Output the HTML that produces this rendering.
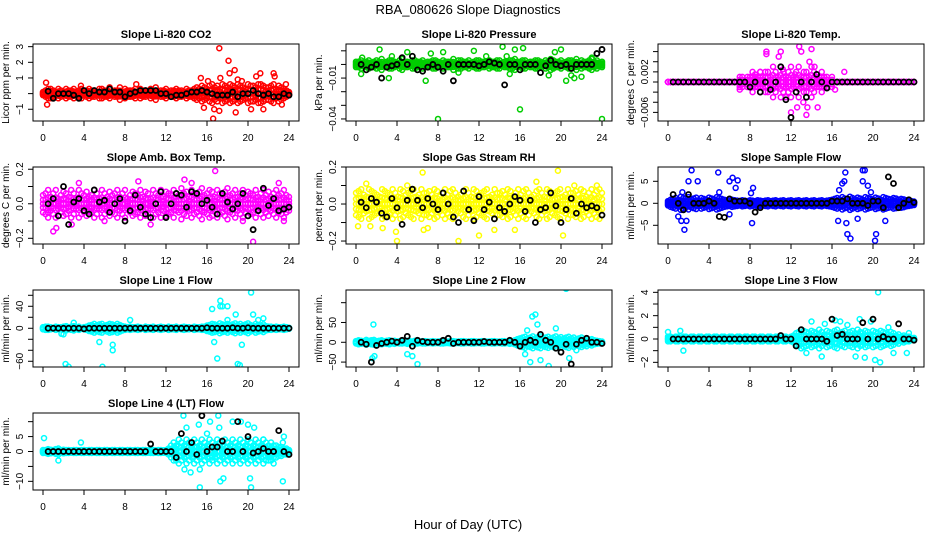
<!DOCTYPE html>
<html><head><meta charset="utf-8">
<style>
html,body{margin:0;padding:0;background:#fff;}
svg{display:block;font-family:"Liberation Sans",Arial,sans-serif;}
</style></head>
<body>
<svg id="chart" width="936" height="540" viewBox="0 0 936 540" xmlns="http://www.w3.org/2000/svg">
<rect width="936" height="540" fill="#fff"/>
<text x="468" y="14" font-size="13" text-anchor="middle">RBA_080626  Slope Diagnostics</text>
<text x="468" y="529" font-size="13" text-anchor="middle">Hour of Day (UTC)</text>
<g id="panels"></g>
</svg>
<script>
// ---------- data (values in panel units; multiply by unit) ----------
const xTickLabels = ["0","4","8","12","16","20","24"];
const xTicks = [0,4,8,12,16,20,24];

// Panel 1: CO2 (unit 0.1 ppm)
const co2Band = [1,-2,3,-3,2,-1,3,-2,1,-3,2,-2,3,-1,2,-3,1,-2,3,-2,2,-1,3,-3,2,-2,3,-1,2,-2,4,-1,3,-2,2,-2,3,-1,3,-2,2,-1,3,-2,4,-1,2,-2,3,-1,2,-2,3,-2,2,-1,3,-2,2,-3,4,-3,5,-4,3,-5,6,-4,5,-3,6,-5,4,-6,5,-4,6,-5,4,-3,6,-5,5,-4,6,-6,5,-4,4,-5,6,-3,5,-4,3,-2,1];
const co2Out = [[0.3,7],[0.4,-7],[3.7,5],[6.5,4],[9.1,6],[15.4,10],[15.7,-9],[16.1,8],[16.6,-16],[16.7,-10],[17.2,29],[17.3,10],[17.2,-11],[18.1,21],[18.2,13],[18.7,15],[18.8,-12],[19,9],[19.4,8],[20.3,-10],[20.8,11],[21.2,13],[21.5,-10],[22.5,13],[22.6,11],[23.3,-7],[23.7,6]];
const co2Black = [1.5,-3,0,0,0,-1,-3,2,0,2,1,1,3,1,1,-2,0,1,2,2,2,2,0,0,-2,-1,-1,0,1,1,2,1,0,-1,-1,-1,1,-2,0,0,2,0,-1,0,-2,-2,0,-1];

// Panel 2: pressure (unit 0.001 kPa)
const presBand = [2,-2,3,-1,2,-3,1,-2,3,-2,4,-1,2,-3,3,-2,1,-3,4,-2,2,-1,3,-3,2,-2,3,-1,2,-2,3,-3,2,-1,3,-2,2,-2,4,-1,3,-3,2,-2,3,-1,2,-3,3,-2,2,-1,3,-2,2,-3,3,-1,2,-2,3,-3,4,-2,2,-3,3,-1,2,-2,3,-3,2,-1,3,-2,4,-3,2,-2,3,-1,2,-3,3,-2,4,-1,3,-2,2,-3,4,-2,3,-1,2];
const presOut = [[0.5,-7],[0.6,5],[2.3,11],[3.2,-10],[3.5,6],[5,9],[6.8,-12],[7.3,8],[8,-40],[8.5,9],[10,-6],[11.5,10],[12.7,6],[14.3,13],[14.7,6],[15,-7],[15.5,11],[16,-33],[16.3,12],[18.8,-8],[19.4,9],[20,11],[20.5,-12],[21,-8],[21.3,-10],[22,-9],[23,5],[23.5,8],[24,-40]];
const presBlack = [0,-4,-2,0,-10,-2,-1,0,5,0,6,-4,-5,-2,0,-2,-5,0,-12,0,0,0,0,-1,0,2,1,0,-15,0,0,-4,0,0,0,-6,-1,3,0,-1,0,-3,0,0,0,0,8,11];

// Panel 3: Li-820 temp (unit 0.001 C)
const tempBand = [0,0,0,0,0,0,0,0,0,0,0,0,0,0,0,0,0,0,0,0,0,0,0,0,0,0,0,0,1,-1,0,1,-1,2,-1,1,-2,1,-2,2,-1,3,-2,1,-3,2,-1,2,-3,1,-2,3,-1,2,-2,1,-3,2,-1,1,-2,1,-1,0,-1,0,0,0,0,0,0,0,0,0,0,0,0,0,0,0,0,0,0,0,0,0,0,0,0,0,0,0,0,0,0,0,0];
const tempOut = [[9.6,6],[9.6,5.5],[10.8,5],[11,6],[11.5,-3],[12,-6],[12.6,-5],[12.8,7],[13,6],[13.2,-4],[13.5,-6.5],[13.6,-5],[13.8,4],[14,6.5],[14.3,3],[14.6,-5],[15,1],[16.3,-1.5],[17.2,2],[9,2],[8.5,1.5],[7,-1.5],[11.2,2.5],[12.4,1.5]];
const tempBlack = [0,0,0,0,0,0,0,0,0,0,0,0,0,0,0,-1,0,-2,0,-1.5,0,3,-3.5,-7,-2,0,-3,0,1.5,0,-1.2,0,0,0,0,0,0,0,0,0,0,0,0,0,0,0,0,0];

// Panel 4: amb box temp (unit 0.01 C)
const ambBand = [5,-6,8,-4,6,-8,3,-5,7,-6,4,-8,6,-3,8,-6,5,-7,4,-5,8,-6,3,-8,6,-4,7,-5,6,-8,4,-6,8,-3,5,-7,6,-5,8,-4,7,-6,3,-8,6,-5,8,-4,7,-6,5,-8,4,-5,9,-6,7,-4,8,-6,5,-7,9,-5,6,-8,7,-4,8,-6,5,-7,9,-5,6,-8,4,-6,8,-5,7,-6,5,-8,4,-6,8,-5,7,-4,6,-8,5,-6,8,-5,4];
const ambOut = [[1,-16],[1.3,-14],[3.5,12],[2.8,-12],[9.3,13],[13.8,14],[16.8,19],[20.5,-22],[6,-10],[10.5,-12],[19.5,-10],[23,12],[23.5,-10],[0.5,-5],[14.5,12]];
const ambBlack = [0,3,-7,10,-12,1,3,-4,-6,8,1,2,-5,0,3,-10,-4,5,-2,-6,-8,0,7,-8,0,6,5,-2,7,6,0,2,-2,-6,6,1,-3,0,6,-7,-15,-4,9,-1,3,-4,-3,-2];

// Panel 5: gas stream RH (unit 0.01 %)
const rhBand = [6,-7,8,-5,4,-8,7,-6,5,-4,8,-7,6,-5,8,-6,4,-8,7,-5,6,-7,8,-4,5,-8,6,-6,7,-5,8,-7,4,-6,8,-5,7,-8,6,-4,5,-7,8,-6,4,-8,7,-5,6,-7,8,-4,5,-8,6,-6,7,-5,8,-7,4,-6,8,-5,7,-8,6,-4,5,-7,8,-6,4,-8,7,-5,6,-7,8,-4,5,-8,6,-6,7,-5,8,-7,4,-6,8,-5,7,-8,6];
const rhOut = [[0.2,-12],[1,11],[1.4,-12],[2.6,-13],[3.9,-15],[4,-20],[5,10],[6.5,17],[6.6,-14],[7,-13],[10,-20],[13.5,-14],[15.5,-14],[17.6,12],[19.7,18],[20.2,-17],[21.3,10],[12,-17],[23.5,10]];
const rhBlack = [1,-2,3,1,-5,-7,3,-2,-11,2,8,2,-2,3,0,-3,6,0,-7,-10,7,-3,-9,4,-3,1,-8,-2,-4,0,4,2,-4,2,-10,-3,-2,6,-1,-10,-3,3,-5,0,-2,-1,-2,-6];

// Panel 6: sample flow (unit 0.1 ml/min)
const sfBand = [-5,8,-10,12,-8,15,-12,10,-14,9,-11,13,-7,12,-10,8,-13,11,-9,14,-12,10,-8,7,-6,8,-7,6,-5,7,-6,5,-7,6,-5,7,-6,5,-6,7,-5,6,-7,5,-6,7,-5,6,-7,5,-6,7,-5,6,-7,5,-6,7,-5,6,-7,5,-6,7,-8,10,-12,9,-14,11,-10,15,-12,9,-13,11,-8,14,-12,10,-9,13,-11,8,-14,12,-10,9,-12,11,-8,10,-9,7,-6,5,-4];
const sfOut = [[1,-30],[1.3,-40],[1.6,-60],[1.8,-40],[2.3,75],[2,50],[2.9,50],[1.4,25],[4.9,70],[5,25],[6,50],[6.3,58],[6.6,35],[6.8,52],[6,-25],[8.1,23],[8.2,-45],[8.3,35],[16.6,-40],[16.7,30],[17,45],[17.2,50],[17.3,70],[17.4,-45],[17.5,-70],[17.8,-80],[19,75],[19.2,75],[19,50],[19.5,40],[19.8,25],[20.2,-85],[20.3,-70],[21.2,-40],[18.5,-35]];
const sfBlack = [20,0,-15,20,0,0,0,5,0,-30,-32,10,5,5,5,0,-20,-10,0,0,0,0,0,0,0,0,0,0,0,0,0,5,5,5,10,0,0,0,-5,5,5,-10,60,45,-10,0,8,2];

// Panel 7: line 1 flow (ml/min)
const l1Band = [2,-3,3,-2,1,-3,2,-2,3,-4,2,-3,4,-2,3,-1,2,-3,-5,6,-8,5,-7,8,-4,6,-8,7,-5,8,-6,4,-3,2,-3,2,-2,3,-2,1,-3,2,-2,3,-1,2,-3,2,-1,3,-2,2,-3,1,-2,3,-2,2,-1,3,-2,2,-3,3,-5,6,-8,7,-5,9,-7,6,-8,5,-7,9,-6,8,-5,7,-9,6,-4,8,-6,5,-7,4,-3,3,-2,3,-2,2,-3,2,-1];
const l1Out = [[1.8,-10],[2,-11],[2.2,-65],[2.5,-70],[3,10],[5.5,-25],[5.8,-70],[6.8,-40],[6.8,-30],[8.5,15],[16.5,35],[16.7,-25],[17,-55],[17.3,50],[17.3,40],[17.5,40],[18,40],[18,15],[18.8,25],[19,-65],[19.2,-67],[19.5,-75],[19.4,-30],[20.3,65],[20.5,25],[21,15],[21.5,18]];
const l1Black = [0,0,0,0,0,0,0,-1,0,0,0,0,0,0,0,0,0,0,0,0,0,0,0,0,0,0,0,0,0,0,0,1,0,0,0,0,1,0,0,1,0,0,0,0,0,0,0,0];

// Panel 8: line 2 flow (ml/min)
const l2Band = [3,-5,4,-3,6,-4,5,-6,3,-4,5,-3,4,-5,3,-4,2,-3,3,-2,4,-3,2,-4,3,-2,3,-3,2,-2,3,-2,2,-3,3,-2,2,-3,3,-2,2,-3,3,-2,2,-3,3,-2,2,-3,3,-2,2,-3,3,-2,2,-3,3,-2,4,-3,5,-8,10,-12,14,-10,12,-15,10,-13,15,-9,12,-14,10,-12,15,-10,13,-9,12,-14,10,-12,8,-10,12,-8,10,-6,8,-5,4,-3,2];
const l2Out = [[1.7,45],[1.6,-40],[1.8,-35],[5,-30],[5.5,-35],[6,-55],[16.5,-30],[17,-50],[17.2,65],[17.5,70],[17.7,45],[18,-45],[18.8,-60],[19.5,35],[20.5,135],[20.8,-40],[21.5,-20],[16.7,30]];
const l2Black = [0,-5,-50,-8,-3,0,3,0,5,15,-10,5,2,0,0,0,5,10,-3,0,0,0,0,0,2,0,0,0,0,5,0,-10,0,5,0,20,5,0,-15,-25,-5,-55,-5,5,10,0,0,-3];

// Panel 9: line 3 flow (0.1 ml/min)
const l3Band = [2,-2,1,-2,2,-1,2,-2,1,-2,2,-1,2,-2,1,-2,2,-1,2,-2,1,-2,2,-1,2,-2,1,-2,2,-1,2,-2,1,-2,2,-1,2,-2,1,-2,2,-1,2,-2,1,-2,2,-1,2,-3,5,-6,4,-7,6,-5,7,-6,5,-8,6,-4,7,-6,5,-7,8,-5,6,-7,4,-6,7,-5,8,-6,5,-7,6,-4,7,-6,5,-7,6,-5,4,-6,5,-3,4,-2,3,-2,2,-1,1];
const l3Out = [[0,6],[1.2,7],[1.5,-10],[13,-8],[13.5,-12],[14,15],[15,-15],[15.3,13],[16.3,16],[16.8,15],[17.5,12],[18.3,-15],[18.7,17],[19.2,-16],[19.8,15],[20.2,-18],[20.5,40],[20.7,-20],[21.5,10],[22,-12],[23.3,-12],[23.5,5]];
const l3Black = [0,0,0,0,0,0,0,0,0,0,0,0,0,0,0,0,0,0,0,0,0,3,0,0,-6,8,0,0,0,0,-2,17,3,4,0,0,0,14,0,17,0,2,0,0,13,0,0,-1];

// Panel 10: line 4 (LT) flow (ml/min)
const l4Band = [0.5,-0.5,0.8,-0.6,0.5,-0.8,1,-0.5,0.6,-0.5,0.5,-0.4,0.5,-0.5,0.4,-0.5,0.5,-0.4,0.5,-0.5,0.4,-0.5,0.5,-0.4,0.5,-0.5,0.4,-0.5,0.5,-0.4,0.5,-0.5,0.4,-0.5,0.5,-0.4,0.5,-0.5,0.4,-0.5,0.5,-0.4,0.5,-0.5,0.4,-0.5,0.5,-0.4,0.5,-1,2,-3,2,-4,3,-2,4,-3,2,-4,3,-2,4,-3,2,-4,3,-2,4,-3,2,-4,3,-2,4,-3,2,-4,3,-2,4,-3,2,-4,3,-2,4,-3,2,-3,2,-2,1.5,-1.5,1,-1,0.5];
const l4Out = [[0.1,4.5],[1.5,-3],[3.7,3],[13,-3],[13.7,12],[13.8,-6],[14,8],[14.4,-7],[15.2,9],[15.3,-6],[15.3,-12],[16,6],[16.3,10],[16.5,-2],[17.1,12],[17.2,8],[17.3,-10],[17.6,-9],[18.5,10],[19.3,10],[19.8,-2],[20,9],[20.2,-9],[20.3,-12],[20.6,8],[21.5,4],[22,-3],[22.5,-4],[23.4,-10],[23.5,5],[23.4,3]];
const l4Black = [0,0,0,0,0,0,0,0,0,0,0,0,0,0,0,0,0,0,0,0,2.5,0,0,0,0,-2,6,0,3,-1,12,0,1.5,1.5,3.5,0,0,10,0,5,-0.5,0,1,0,0,7,0,-1];

// band arrays hold the spread (envelope) of the dense 1-minute samples at each time step
const bandFractions = [1, -1, 0.45, -0.45, 0];

// ---------- panel configuration ----------
const panels = [
 {title:"Slope Li-820 CO2", ylab:"Licor ppm per min.", col:"#ff0000", left:33, top:44, ymin:-1.75, ymax:3.17, unit:0.1, ticks:[-1,0,1,2,3], tl:["-1","","1","2","3"], band:co2Band, out:co2Out, black:co2Black},
 {title:"Slope Li-820 Pressure", ylab:"kPa per min.", col:"#00cd00", left:346, top:44, ymin:-0.0415, ymax:0.015, unit:0.001, ticks:[-0.04,-0.03,-0.02,-0.01,0,0.01], tl:["-0.04","","","-0.01","",""], band:presBand, out:presOut, black:presBlack},
 {title:"Slope Li-820 Temp.", ylab:"degrees C per min.", col:"#ff00ff", left:658, top:44, ymin:-0.0077, ymax:0.0075, unit:0.001, ticks:[-0.006,-0.004,-0.002,0,0.002,0.004,0.006], tl:["-0.006","","","","0.002","",""], band:tempBand, out:tempOut, black:tempBlack},
 {title:"Slope Amb. Box Temp.", ylab:"degrees C per min.", col:"#ff00ff", left:33, top:167, ymin:-0.233, ymax:0.213, unit:0.01, ticks:[-0.2,-0.1,0,0.1,0.2], tl:["-0.2","","0.0","","0.2"], band:ambBand, out:ambOut, black:ambBlack},
 {title:"Slope Gas Stream RH", ylab:"percent per min.", col:"#ffff00", left:346, top:167, ymin:-0.216, ymax:0.2, unit:0.01, ticks:[-0.2,-0.1,0,0.1,0.2], tl:["-0.2","","0.0","","0.2"], band:rhBand, out:rhOut, black:rhBlack},
 {title:"Slope Sample Flow", ylab:"ml/min per min.", col:"#0000ff", left:658, top:167, ymin:-9.25, ymax:8.25, unit:0.1, ticks:[-5,0,5], tl:["-5","0","5"], band:sfBand, out:sfOut, black:sfBlack},
 {title:"Slope Line 1 Flow", ylab:"ml/min per min.", col:"#00ffff", left:33, top:290, ymin:-70.4, ymax:69.6, unit:1, ticks:[-60,-40,-20,0,20,40,60], tl:["-60","","","0","","40",""], band:l1Band, out:l1Out, black:l1Black},
 {title:"Slope Line 2 Flow", ylab:"ml/min per min.", col:"#00ffff", left:346, top:290, ymin:-62.4, ymax:132, unit:1, ticks:[-50,0,50,100], tl:["-50","0","50",""], band:l2Band, out:l2Out, black:l2Black},
 {title:"Slope Line 3 Flow", ylab:"ml/min per min.", col:"#00ffff", left:658, top:290, ymin:-2.4, ymax:4.2, unit:0.1, ticks:[-2,-1,0,1,2,3,4], tl:["-2","","0","","2","","4"], band:l3Band, out:l3Out, black:l3Black},
 {title:"Slope Line 4 (LT) Flow", ylab:"ml/min per min.", col:"#00ffff", left:33, top:413, ymin:-12.9, ymax:12.9, unit:1, ticks:[-10,-5,0,5,10], tl:["-10","","0","5",""], band:l4Band, out:l4Out, black:l4Black}
];

const W = 266, H = 77;
const NS = "http://www.w3.org/2000/svg";
const root = document.getElementById('panels');
function mk(tag, attrs, parent){
  const e = document.createElementNS(NS, tag);
  for (const k in attrs) e.setAttribute(k, attrs[k]);
  parent.appendChild(e);
  return e;
}
function slug(s){return s.toLowerCase().replace(/[^a-z0-9]+/g,'-').replace(/^-|-$/g,'');}

panels.forEach(p => {
  const name = slug(p.title.replace('Slope ',''));
  const g = mk('g', {}, root);
  
  
  const xs = h => p.left + 10 + h / 24 * (W - 20);
  const ys = v => p.top + (p.ymax - v) / (p.ymax - p.ymin) * H;
  const clipId = 'clip-' + name;
  const cp = mk('clipPath', {id: clipId}, g);
  mk('rect', {x: p.left, y: p.top, width: W, height: H}, cp);
  const marks = mk('g', {'clip-path': 'url(#' + clipId + ')', fill: 'none', 'stroke-width': 1.5}, g);
  
  
  const n = p.band.length;
  p.band.forEach((v, i) => {
    bandFractions.forEach(f => {
      const c = mk('circle', {cx: xs(i * 24 / (n - 1)), cy: ys(v * f * p.unit), r: 2.5, stroke: p.col}, marks);
      
      
    });
  });
  p.out.forEach(d => {
    const c = mk('circle', {cx: xs(d[0]), cy: ys(d[1] * p.unit), r: 2.5, stroke: p.col}, marks);
    
    
  });
  const m = p.black.length;
  p.black.forEach((v, i) => {
    const c = mk('circle', {cx: xs(0.5 + i * 23.5 / (m - 1)), cy: ys(v * p.unit), r: 2.5, stroke: '#000', 'stroke-width': 1.8}, marks);
    
    
  });
  const box = mk('rect', {x: p.left, y: p.top, width: W, height: H, fill: 'none', stroke: '#000', 'stroke-width': 1}, g);
  
  
  const t = mk('text', {x: p.left + W / 2, y: p.top - 6, 'font-size': 11, 'font-weight': 'bold', 'text-anchor': 'middle'}, g);
  t.textContent = p.title;
  
  
  const xa = mk('g', {stroke: '#000', 'stroke-width': 1}, g);
  
  
  const by = p.top + H;
  xTicks.forEach((h, i) => {
    mk('line', {x1: xs(h), x2: xs(h), y1: by, y2: by + 5}, xa);
    const lt = mk('text', {x: xs(h), y: by + 20, 'font-size': 10, 'text-anchor': 'middle', stroke: 'none'}, xa);
    lt.textContent = xTickLabels[i];
    
    
  });
  const ya = mk('g', {stroke: '#000', 'stroke-width': 1}, g);
  
  
  p.ticks.forEach((v, i) => {
    const y = ys(v);
    mk('line', {x1: p.left - 5, x2: p.left, y1: y, y2: y}, ya);
    if (p.tl[i]) {
      const lx = p.left - 10;
      const lt = mk('text', {x: lx, y: y, 'font-size': 10, 'text-anchor': 'middle', stroke: 'none', transform: 'rotate(-90 ' + lx + ' ' + y + ')'}, ya);
      lt.textContent = p.tl[i].replace('-', '\u2212');
      
      
    }
  });
  const tx = p.left - 24, ty = p.top + H / 2;
  const yt = mk('text', {x: tx, y: ty, 'font-size': 10, 'text-anchor': 'middle', transform: 'rotate(-90 ' + tx + ' ' + ty + ')'}, g);
  yt.textContent = p.ylab;
  
  
});
</script>
</body></html>
